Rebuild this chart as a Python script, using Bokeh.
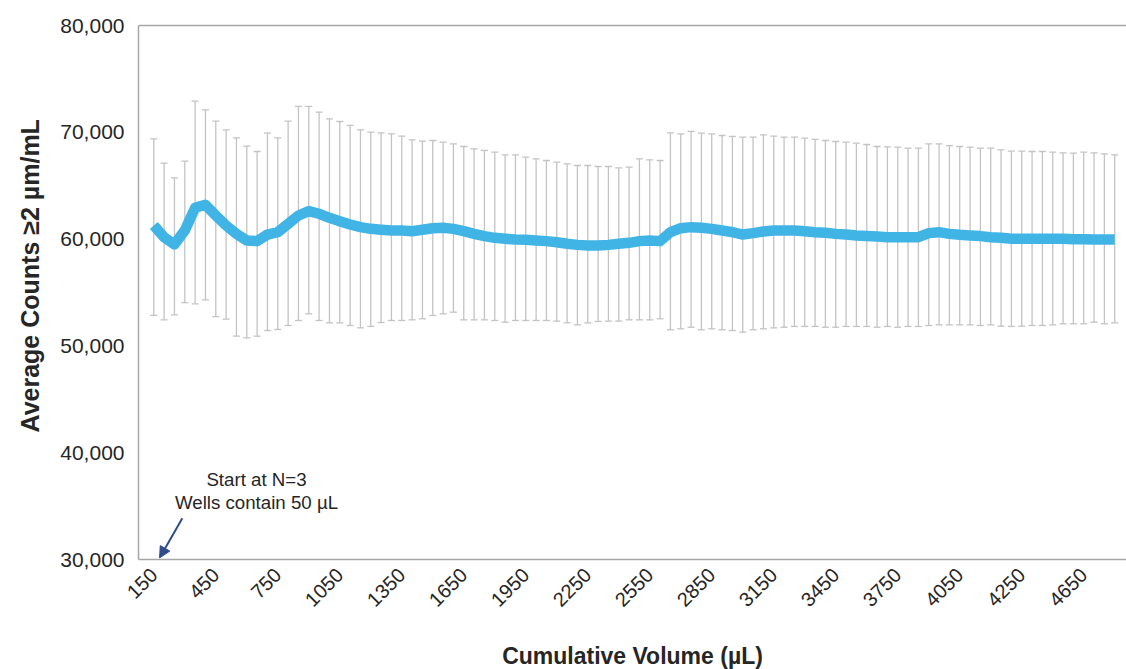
import math
from bokeh.plotting import figure
from bokeh.models import (ColumnDataSource, Whisker, TeeHead, FixedTicker, NumeralTickFormatter,
                          LinearAxis, Arrow, NormalHead, Label, Range1d, Title)
from bokeh.embed import file_html
from bokeh.resources import INLINE

# ---- data ----
volumes = list(range(150, 4801, 50))  # cumulative volume (µL) categories

mean = [61270, 60180, 59500, 60810, 62930, 63210, 62210, 61270, 60490, 59870,
        59810, 60430, 60650, 61430, 62210, 62620, 62370, 61990, 61680, 61370,
        61120, 60960, 60880, 60810, 60810, 60740, 60870, 61020, 61060, 60960,
        60740, 60490, 60280, 60120, 60030, 59960, 59930, 59870, 59810, 59710,
        59560, 59460, 59400, 59400, 59460, 59560, 59650, 59810, 59870, 59810,
        60650, 61020, 61120, 61060, 60960, 60810, 60650, 60430, 60560, 60710,
        60810, 60810, 60810, 60740, 60650, 60590, 60490, 60430, 60340, 60280,
        60240, 60180, 60180, 60180, 60180, 60560, 60650, 60490, 60400, 60340,
        60280, 60180, 60120, 60030, 60030, 60030, 60030, 60030, 60030, 59990,
        59990, 59960, 59960, 59960]

upper = [69390, 67110, 65740, 67300, 72920, 72100, 71040, 70230, 69480, 68700,
         68200, 69920, 69480, 71040, 72420, 72420, 71890, 71260, 71010, 70640,
         70230, 70010, 69950, 69860, 69640, 69300, 69170, 69230, 69080, 68920,
         68670, 68450, 68300, 68140, 67890, 67890, 67670, 67520, 67360, 67200,
         67050, 66890, 66890, 66800, 66800, 66670, 66740, 67520, 67420, 67360,
         69950, 69860, 70080, 69920, 69860, 69700, 69610, 69550, 69550, 69760,
         69640, 69550, 69550, 69450, 69330, 69230, 69140, 69080, 68980, 68860,
         68670, 68640, 68610, 68520, 68520, 68920, 68920, 68760, 68670, 68610,
         68520, 68520, 68360, 68230, 68230, 68200, 68200, 68140, 68080, 68050,
         68140, 68080, 67980, 67890]

lower = [52850, 52440, 52910, 54060, 53940, 54310, 52750, 52500, 50910, 50760,
         50910, 51440, 51540, 51910, 52380, 53000, 52380, 52160, 52160, 51910,
         51690, 51820, 52190, 52380, 52380, 52440, 52540, 52850, 53000, 53160,
         52440, 52440, 52440, 52380, 52220, 52380, 52380, 52380, 52380, 52320,
         52160, 51970, 52160, 52290, 52320, 52320, 52440, 52440, 52440, 52540,
         51510, 51600, 51750, 51510, 51600, 51510, 51440, 51290, 51510, 51600,
         51690, 51750, 51820, 51820, 51820, 51750, 51750, 51820, 51820, 51820,
         51750, 51820, 51750, 51820, 51820, 51910, 51970, 51970, 51970, 51970,
         51910, 51970, 51850, 51820, 51850, 51910, 51910, 51970, 52070, 52070,
         52070, 52220, 52070, 52160]

tick_positions = [150, 450, 750, 1050, 1350, 1650, 1950, 2250, 2550, 2850,
                  3150, 3450, 3750, 4050, 4350, 4650]
tick_labels = ["150", "450", "750", "1050", "1350", "1650", "1950", "2250", "2550", "2850",
               "3150", "3450", "3750", "4050", "4250", "4650"]
y_ticks = [30000, 40000, 50000, 60000, 70000, 80000]

y_title = "Average Counts \u22652 \u00b5m/mL"
x_title = "Cumulative Volume (\u00b5L)"
note_lines = ["Start at N=3", "Wells contain 50 \u00b5L"]
note_x = 647
note_y = [37490, 35340]
arrow_start = (288, 33870)
arrow_end = (178, 30150)

FONT = "Liberation Sans"
TXT = "#262626"
AXIS = "#a6a6a6"

src = ColumnDataSource(dict(x=volumes, mean=mean, upper=upper, lower=lower))

p = figure(output_backend="svg", toolbar_location=None,
           frame_width=988, frame_height=534,
           x_range=Range1d(76, 4857), y_range=Range1d(30000, 80000),
           min_border_left=138, min_border_right=0, min_border_top=25, min_border_bottom=108)
p.background_fill_color = "white"
p.border_fill_color = "white"
p.outline_line_color = None
p.xgrid.visible = False
p.ygrid.visible = False

w = Whisker(source=src, base="x", upper="upper", lower="lower",
            line_color="#c3c3c3", line_width=1.3,
            upper_head=TeeHead(size=7, line_color="#c3c3c3", line_width=1.3),
            lower_head=TeeHead(size=7, line_color="#c3c3c3", line_width=1.3))
w.level = "underlay"
p.add_layout(w)

p.line("x", "mean", source=src, line_width=10.5, line_color="#41B4E6",
       line_join="round", line_cap="butt")

# axes
xa = p.xaxis[0]
xa.ticker = FixedTicker(ticks=tick_positions)
xa.major_label_overrides = {t: l for t, l in zip(tick_positions, tick_labels)}
xa.major_label_orientation = math.pi / 4
xa.major_label_text_font = FONT
xa.major_label_text_font_size = "20px"
xa.major_label_text_color = TXT
xa.major_label_standoff = 6
xa.major_tick_line_color = None
xa.minor_tick_line_color = None
xa.axis_line_color = AXIS
xa.axis_line_width = 1.5
xa.axis_label = x_title
xa.axis_label_text_font = FONT
xa.axis_label_text_font_style = "bold"
xa.axis_label_text_font_size = "23px"
xa.axis_label_text_color = TXT
xa.axis_label_standoff = 27

ya = p.yaxis[0]
ya.ticker = FixedTicker(ticks=y_ticks)
ya.formatter = NumeralTickFormatter(format="0,0")
ya.major_label_text_font = FONT
ya.major_label_text_font_size = "21px"
ya.major_label_text_color = TXT
ya.major_label_standoff = 8
ya.major_tick_line_color = None
ya.minor_tick_line_color = None
ya.axis_line_color = AXIS
ya.axis_line_width = 1.5

p.add_layout(Title(text=y_title, align="left", offset=127, standoff=27,
                   text_font=FONT, text_font_size="25px", text_font_style="bold",
                   text_color=TXT), "left")

top = LinearAxis(ticker=FixedTicker(ticks=[]), major_label_text_font_size="0px",
                 major_tick_line_color=None, minor_tick_line_color=None,
                 axis_line_color=AXIS, axis_line_width=1.5, major_label_standoff=0)
p.add_layout(top, "above")

# annotation
for txt, yy in zip(note_lines, note_y):
    p.add_layout(Label(x=note_x, y=yy, text=txt, text_align="center", text_baseline="middle",
                       text_font=FONT, text_font_size="18.7px", text_color=TXT))
p.add_layout(Arrow(end=NormalHead(size=11, fill_color="#2F4C8C", line_color="#2F4C8C"),
                   x_start=arrow_start[0], y_start=arrow_start[1],
                   x_end=arrow_end[0], y_end=arrow_end[1],
                   line_color="#2F4C8C", line_width=2))

open("out.html", "w").write(file_html(p, INLINE))
